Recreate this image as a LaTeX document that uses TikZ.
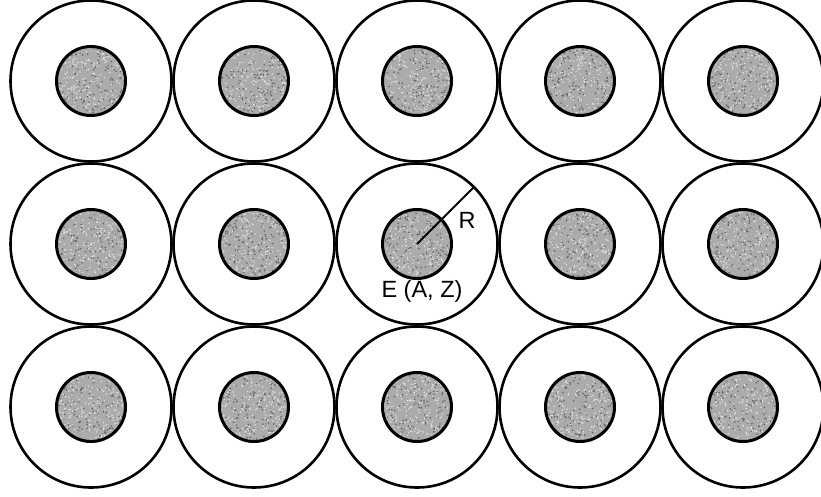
\documentclass[tikz,border=0pt]{standalone}
\usepackage{fontspec}
\setmainfont{Liberation Sans}
\begin{document}
\begin{tikzpicture}[x=1pt,y=-1pt,
  outerc/.style={circle,draw=black,line width=2.6pt,minimum size=161pt,inner sep=0pt},
  innerc/.style={circle,draw=black,line width=3pt,minimum size=69pt,inner sep=0pt},
  lbl/.style={font=\fontsize{23.5}{26}\selectfont,inner sep=0pt}]
\fill[white] (0,0) rectangle (821,496);
\useasboundingbox (0,0) rectangle (821,496);
\pgfmathsetseed{11}
\foreach \i in {0,...,4}{
  \foreach \j in {0,...,2}{
    \pgfmathsetmacro\cx{91+163*\i}
    \pgfmathsetmacro\cy{81+163*\j}
    \node[outerc] (o\i\j) at (\cx,\cy) {};
    \begin{scope}
      \clip (\cx,\cy) circle (35);
      \fill[black!33] (\cx,\cy) circle (35);
      \foreach \k in {1,...,160}{
        \fill[black!62] (\cx+35*rand,\cy+35*rand) circle (0.85);
      }
      \foreach \k in {1,...,230}{
        \fill[white!88!black] (\cx+35*rand,\cy+35*rand) circle (0.85);
      }
    \end{scope}
    \node[innerc] (n\i\j) at (\cx,\cy) {};
  }
}
\draw[line width=1.8pt] (o21.center) -- (o21.45);
\node[lbl] (r) at (467,220) {R};
\node[lbl] (e) at (422,291) {E (A, Z)};
\end{tikzpicture}
\end{document}
